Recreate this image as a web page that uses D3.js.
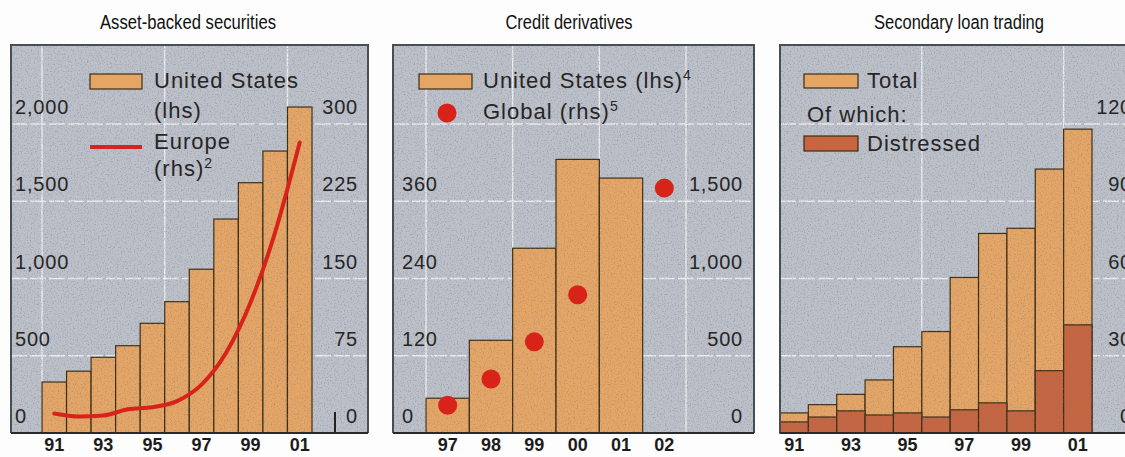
<!DOCTYPE html>
<html>
<head>
<meta charset="utf-8">
<script src="https://cdn.jsdelivr.net/npm/d3@7"></script>
<style>
  body { margin: 0; background: #fdfdfd; }
  svg { display: block; }
  text { fill: #262626; font-family: "Liberation Sans", Arial, sans-serif; }
  .title { font-family: "Liberation Sans", Arial, sans-serif; font-size: 20px; fill: #111; }
</style>
</head>
<body>
<svg id="chart" width="1125" height="457"></svg>
<script>
// --- data ---
const absYears = ['91','92','93','94','95','96','97','98','99','00','01'];
const absUS = [330, 400, 490, 565, 710, 850, 1060, 1385, 1620, 1825, 2110];
const absEurope = [19, 16, 17, 23, 25, 31, 47, 78, 127, 195, 282];
const absLeftTicks = [0, 500, 1000, 1500, 2000];
const absRightTicks = [0, 75, 150, 225, 300];
const absXLabels = ['91','93','95','97','99','01'];

const cdYears = ['97','98','99','00','01','02'];
const cdUS = [54, 144, 287, 425, 396, null];
const cdGlobal = [180, 350, 590, 895, null, 1585];
const cdLeftTicks = [0, 120, 240, 360];
const cdRightTicks = [0, 500, 1000, 1500];

const slYears = ['91','92','93','94','95','96','97','98','99','00','01'];
const slTotal = [7.8, 11, 15, 20.6, 33.5, 39.4, 60.4, 77.5, 79.5, 102.5, 118];
const slDistressed = [4.3, 6.2, 8.6, 7, 7.8, 6.2, 9, 11.7, 8.6, 24.2, 42];
const slRightTicks = [0, 30, 60, 90, 120];
const slXLabels = ['91','93','95','97','99','01'];

const orange = '#e5a565', brown = '#c6653f', red = '#d8231a';
const bgGrey = '#bcc0c9', edge = '#3b2d14';
const y0 = 433, yTop = 124, frameTop = 45;

const svg = d3.select('#chart');

// speckle texture
const defs = svg.append('defs');
const f = defs.append('filter').attr('id', 'speck').attr('x', 0).attr('y', 0).attr('width', '100%').attr('height', '100%');
f.append('feTurbulence').attr('type', 'fractalNoise').attr('baseFrequency', 0.7).attr('numOctaves', 2).attr('seed', 4);
f.append('feColorMatrix').attr('type', 'matrix')
  .attr('values', '0 0 0 0 0.2  0 0 0 0 0.2  0 0 0 0 0.25  3.2 0 0 0 -1.6');

function frame(g, x0, x1, title, titleX, titleW){
    g.append('rect').attr('x', x0).attr('y', frameTop).attr('width', x1 - x0).attr('height', y0 - frameTop)
        .attr('fill', bgGrey);
    svg.append('text').attr('class', 'title').attr('x', titleX - titleW / 2).attr('y', 29)
        .attr('textLength', titleW).attr('lengthAdjust', 'spacingAndGlyphs').text(title);
}

function hGrid(g, x0, x1, ys){
    g.selectAll(null).data(ys).enter().append('line')
        .attr('x1', x0).attr('x2', x1).attr('y1', d => d).attr('y2', d => d)
        .attr('stroke', '#f4f4f4').attr('stroke-width', 1.4).attr('stroke-dasharray', '16,3').attr('opacity', 0.85);
}

function vGrid(g, xs){
    g.selectAll(null).data(xs).enter().append('line')
        .attr('x1', d => d).attr('x2', d => d).attr('y1', frameTop).attr('y2', y0)
        .attr('stroke', '#f4f4f4').attr('stroke-width', 1.4).attr('opacity', 0.85);
}

function border(g, x0, x1, sides){
    var p = d3.path();
    if(sides.left){ p.moveTo(x0, y0); p.lineTo(x0, frameTop); } else p.moveTo(x0, frameTop);
    p.lineTo(x1, frameTop);
    if(sides.right) p.lineTo(x1, y0);
    g.append('path').attr('d', p.toString()).attr('fill', 'none').attr('stroke', '#4a4d52').attr('stroke-width', 2);
    g.append('line').attr('x1', x0).attr('x2', x1).attr('y1', y0).attr('y2', y0)
        .attr('stroke', '#2a2a2a').attr('stroke-width', 2);
}

function speckle(g, x0, x1){
    g.append('rect').attr('x', x0).attr('y', frameTop).attr('width', x1 - x0).attr('height', y0 - frameTop)
        .attr('filter', 'url(#speck)').attr('opacity', 0.4);
}

function tickLabels(g, ticks, scale, x, anchor){
    g.selectAll(null).data(ticks).enter().append('text')
        .attr('x', x).attr('y', d => scale(d) - 10)
        .attr('text-anchor', anchor).attr('font-size', 20).attr('letter-spacing', 0.8)
        .text(d => d3.format(',')(d));
}

function xLabels(g, labels, xs){
    g.selectAll(null).data(labels).enter().append('text')
        .attr('x', d => xs(d) + xs.bandwidth() / 2).attr('y', 451)
        .attr('text-anchor', 'middle').attr('font-size', 18).attr('font-weight', 'bold')
        .style('fill', '#1c1c1c').text(d => d);
}

function legendText(g, x, y, txt, sup){
    var t = g.append('text').attr('x', x).attr('y', y).attr('font-size', 22).attr('letter-spacing', 1).text(txt);
    if(sup) t.append('tspan').attr('font-size', 14).attr('dy', -8).text(sup);
}

// ---------- panel 1: asset-backed securities ----------
(function(){
    const g = svg.append('g');
    const x0 = 11, x1 = 368;
    frame(g, x0, x1, 'Asset-backed securities', 188, 176);
    const x = d3.scaleBand().domain(absYears).range([42, 312]);
    const yl = d3.scaleLinear().domain([0, 2000]).range([y0, yTop]);
    const yr = d3.scaleLinear().domain([0, 300]).range([y0, yTop]);
    hGrid(g, x0, x1, absLeftTicks.slice(1).map(yl));
    vGrid(g, ['91','96','01'].map(d => x(d)));

    g.selectAll('.bar').data(absUS).enter().append('rect')
        .attr('x', (d, i) => x(absYears[i])).attr('y', d => yl(d))
        .attr('width', x.bandwidth()).attr('height', d => y0 - yl(d))
        .attr('fill', orange).attr('stroke', edge).attr('stroke-width', 1.2);

    speckle(g, x0, x1);

    const line = d3.line().x((d, i) => x(absYears[i]) + x.bandwidth() / 2).y(d => yr(d)).curve(d3.curveMonotoneX);
    g.append('path').datum(absEurope).attr('d', line)
        .attr('fill', 'none').attr('stroke', red).attr('stroke-width', 4).attr('stroke-linecap', 'round');

    // stray right-axis stub
    g.append('line').attr('x1', 335).attr('x2', 335).attr('y1', 412).attr('y2', y0).attr('stroke', '#222').attr('stroke-width', 2);

    tickLabels(g, absLeftTicks, yl, 15, 'start');
    tickLabels(g, absRightTicks, yr, 358, 'end');
    xLabels(g, absXLabels, x);

    g.append('rect').attr('x', 90).attr('y', 74).attr('width', 52).attr('height', 15)
        .attr('fill', orange).attr('stroke', edge).attr('stroke-width', 1.2);
    legendText(g, 154, 88, 'United States');
    legendText(g, 154, 118, '(lhs)');
    g.append('line').attr('x1', 90).attr('x2', 142).attr('y1', 147).attr('y2', 147)
        .attr('stroke', red).attr('stroke-width', 4);
    legendText(g, 154, 149, 'Europe');
    legendText(g, 154, 176, '(rhs)', '2');
    border(g, x0, x1, {left: true, right: true});
})();

// ---------- panel 2: credit derivatives ----------
(function(){
    const g = svg.append('g');
    const x0 = 393, x1 = 754;
    frame(g, x0, x1, 'Credit derivatives', 569, 127);
    const x = d3.scaleBand().domain(cdYears).range([426, 686]);
    const yl = d3.scaleLinear().domain([0, 480]).range([y0, yTop]);
    const yr = d3.scaleLinear().domain([0, 2000]).range([y0, yTop]);
    hGrid(g, x0, x1, [120, 240, 360, 480].map(yl));
    vGrid(g, [x('97'), x('99'), x('01'), x('02') + x.bandwidth()]);

    g.selectAll('.bar').data(cdUS.filter(d => d != null)).enter().append('rect')
        .attr('x', (d, i) => x(cdYears[i])).attr('y', d => yl(d))
        .attr('width', x.bandwidth()).attr('height', d => y0 - yl(d))
        .attr('fill', orange).attr('stroke', edge).attr('stroke-width', 1.2);

    speckle(g, x0, x1);

    g.selectAll('.dot').data(cdGlobal.map((v, i) => ({v: v, k: cdYears[i]})).filter(d => d.v != null))
        .enter().append('circle')
        .attr('cx', d => x(d.k) + x.bandwidth() / 2).attr('cy', d => yr(d.v))
        .attr('r', 9.5).attr('fill', red);

    tickLabels(g, cdLeftTicks, yl, 402, 'start');
    tickLabels(g, cdRightTicks, yr, 743, 'end');
    xLabels(g, cdYears, x);

    g.append('rect').attr('x', 419).attr('y', 74).attr('width', 53).attr('height', 15)
        .attr('fill', orange).attr('stroke', edge).attr('stroke-width', 1.2);
    legendText(g, 483, 88, 'United States (lhs)', '4');
    g.append('circle').attr('cx', 447).attr('cy', 113).attr('r', 9.5).attr('fill', red);
    legendText(g, 483, 119, 'Global (rhs)', '5');
    border(g, x0, x1, {left: true, right: true});
})();

// ---------- panel 3: secondary loan trading ----------
(function(){
    const g = svg.append('g');
    const x0 = 780, x1 = 1125;
    frame(g, x0, x1, 'Secondary loan trading', 959, 170);
    const x = d3.scaleBand().domain(slYears).range([780, 1092]);
    const y = d3.scaleLinear().domain([0, 120]).range([y0, yTop]);
    hGrid(g, x0, x1, slRightTicks.slice(1).map(y));
    vGrid(g, [x('96'), x('01')]);

    g.selectAll('.tot').data(slTotal).enter().append('rect')
        .attr('x', (d, i) => x(slYears[i])).attr('y', d => y(d))
        .attr('width', x.bandwidth()).attr('height', d => y0 - y(d))
        .attr('fill', orange).attr('stroke', edge).attr('stroke-width', 1.2);
    g.selectAll('.dis').data(slDistressed).enter().append('rect')
        .attr('x', (d, i) => x(slYears[i])).attr('y', d => y(d))
        .attr('width', x.bandwidth()).attr('height', d => y0 - y(d))
        .attr('fill', brown).attr('stroke', edge).attr('stroke-width', 1.2);

    speckle(g, x0, x1);

    // the reference crops these right-hand labels at the picture edge
    tickLabels(g, slRightTicks, y, 1132, 'end');
    xLabels(g, slXLabels, x);

    g.append('rect').attr('x', 804).attr('y', 74).attr('width', 54).attr('height', 14)
        .attr('fill', orange).attr('stroke', edge).attr('stroke-width', 1.2);
    legendText(g, 867, 88, 'Total');
    legendText(g, 807, 122, 'Of which:');
    g.append('rect').attr('x', 804).attr('y', 136).attr('width', 54).attr('height', 15)
        .attr('fill', brown).attr('stroke', edge).attr('stroke-width', 1.2);
    legendText(g, 867, 151, 'Distressed');
    border(g, x0, x1, {left: true, right: false});
})();
</script>
</body>
</html>
